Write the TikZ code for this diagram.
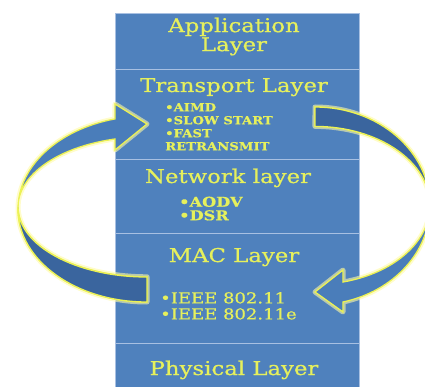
\documentclass[tikz,border=0pt]{standalone}
\usepackage{fontspec}
\newfontfamily\layerfont[FakeStretch=1.2,FakeBold=0.7]{DejaVu Serif}
\definecolor{layblue}{RGB}{79,129,189}
\definecolor{layline}{RGB}{168,192,226}
\definecolor{laytext}{RGB}{230,240,92}
\definecolor{arrfront}{RGB}{74,125,186}
\definecolor{arrback}{RGB}{58,101,158}
\definecolor{arredge}{RGB}{236,242,84}
\tikzset{
  layer/.style={draw=layline, line width=0.9pt, fill=layblue, minimum width=244pt, inner sep=0pt},
  title/.style={text=laytext, inner sep=0pt, font=\layerfont\fontsize{19}{19}\selectfont},
  item/.style={text=laytext, inner sep=0pt, align=left, anchor=north west},
  glow/.style={draw=yellow!35!white, line width=5pt, opacity=0.6, line join=round},
  rim/.style={draw=arredge, line width=1.3pt, line join=miter},
}
\begin{document}
\begin{tikzpicture}[x=1pt,y=-1pt]
  \useasboundingbox (0,0) rectangle (425,387);
  \clip (0,0) rectangle (425,387);

  % livelli
  \node[layer, minimum height=56pt]  (app)   at (237,41)    {};
  \node[layer, minimum height=90pt]  (trans) at (237,114)   {};
  \node[layer, minimum height=74pt]  (net)   at (237,196)   {};
  \node[layer, minimum height=110pt] (mac)   at (237,288)   {};
  \node[layer, minimum height=57pt]  (phys)  at (237,371.5) {};

  % titoli
  \node[title, anchor=north, align=center] (apptitle) at (234,17.5) {Application\\Layer};
  \node[title, anchor=base] (transtitle) at (234,92)  {Transport Layer};
  \node[title, anchor=base] (nettitle)   at (228,183) {Network layer};
  \node[title, anchor=base] (mactitle)   at (234,262) {MAC Layer};
  \node[title, anchor=base] (phystitle)  at (234,375) {Physical Layer};

  % protocolli
  \node[item, font=\layerfont\bfseries\fontsize{11}{13}\selectfont] (transitems) at (165,103)
    {•AIMD\\•SLOW START\\•FAST\\RETRANSMIT};
  \node[item, font=\layerfont\bfseries\fontsize{13.5}{13.5}\selectfont] (netitems) at (179,196.5)
    {•AODV\\•DSR};
  \node[item, font=\layerfont\fontsize{15}{16}\selectfont] (macitems) at (160,292)
    {•IEEE 802.11\\•IEEE 802.11e};

  % freccia sinistra: da MAC a trasporto
  \draw[rim, fill=arrfront, preaction={glow}] (147,302)
    arc[start angle=90, end angle=255.6, x radius=129, y radius=93]
    -- (115,104) -- (147,124) -- (115,150) -- (115,139)
    arc[start angle=255.6, end angle=90, x radius=129, y radius=70] -- cycle;
  \draw[rim, fill=arrback] (147,302)
    arc[start angle=90, end angle=180, x radius=129, y radius=93] -- (18,207)
    arc[start angle=180, end angle=90, x radius=129, y radius=70] -- cycle;

  % freccia destra: da trasporto a MAC
  \draw[rim, fill=arrfront, preaction={glow}] (315,107)
    arc[start angle=-90, end angle=75.9, x radius=115, y radius=99]
    -- (343,312) -- (315,292) -- (343,270) -- (343,282)
    arc[start angle=75.9, end angle=-90, x radius=115, y radius=79] -- cycle;
  \draw[rim, fill=arrback] (315,107)
    arc[start angle=-90, end angle=0, x radius=115, y radius=99] -- (430,205.4)
    arc[start angle=0, end angle=-90, x radius=115, y radius=79] -- cycle;
\end{tikzpicture}
\end{document}
